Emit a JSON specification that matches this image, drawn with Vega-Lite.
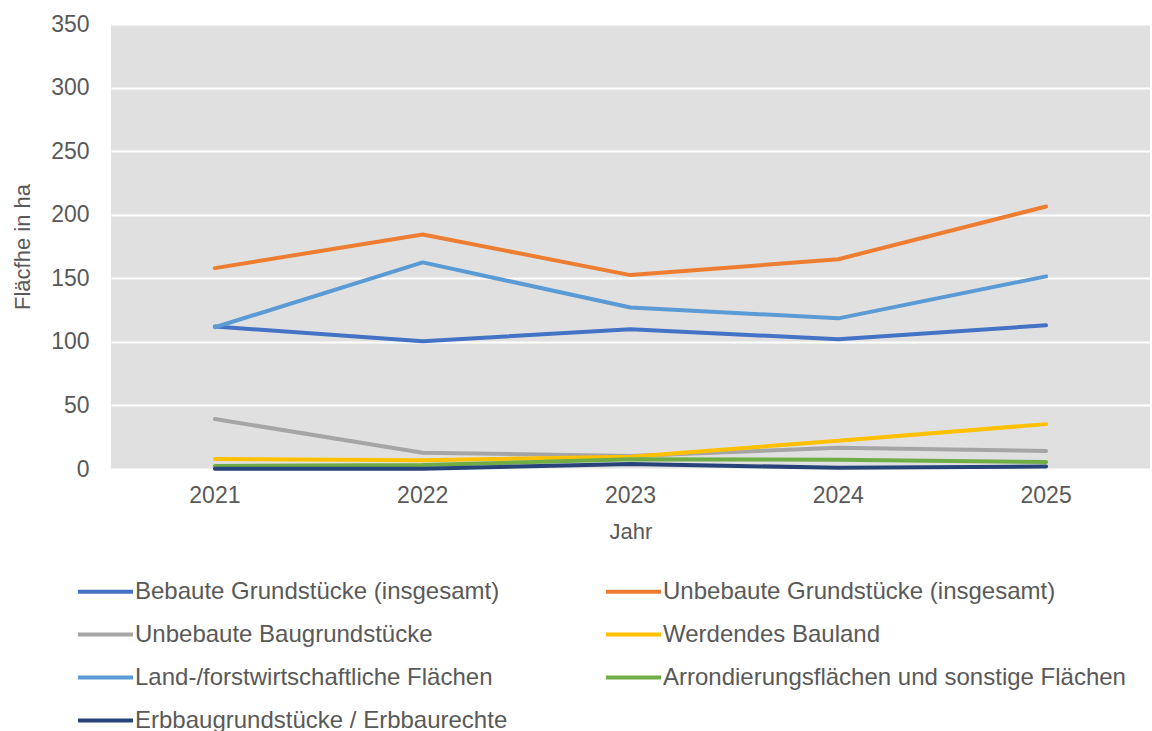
{
  "$schema": "https://vega.github.io/schema/vega-lite/v6.json",
  "autosize": "none",
  "width": 1039,
  "height": 445,
  "padding": {"left": 111, "top": 24, "right": 2, "bottom": 262},
  "background": "white",
  "config": {
    "font": "Liberation Sans",
    "view": {"fill": "#E0E0E0", "stroke": null},
    "axis": {"labelFont": "Liberation Sans", "titleFont": "Liberation Sans", "labelColor": "#595959", "titleColor": "#595959", "labelFontSize": 23, "titleFontSize": 22, "titleFontWeight": "normal"},
    "legend": {"labelFont": "Liberation Sans", "labelFontSize": 24, "labelColor": "#595959", "labelLimit": 800}
  },
  "data": {"values": [
    {"Jahr": "2021", "Serie": "Bebaute Grundstücke (insgesamt)", "Wert": 112},
    {"Jahr": "2022", "Serie": "Bebaute Grundstücke (insgesamt)", "Wert": 100.5},
    {"Jahr": "2023", "Serie": "Bebaute Grundstücke (insgesamt)", "Wert": 110},
    {"Jahr": "2024", "Serie": "Bebaute Grundstücke (insgesamt)", "Wert": 102},
    {"Jahr": "2025", "Serie": "Bebaute Grundstücke (insgesamt)", "Wert": 113},
    {"Jahr": "2021", "Serie": "Unbebaute Grundstücke (insgesamt)", "Wert": 158},
    {"Jahr": "2022", "Serie": "Unbebaute Grundstücke (insgesamt)", "Wert": 184.5},
    {"Jahr": "2023", "Serie": "Unbebaute Grundstücke (insgesamt)", "Wert": 152.5},
    {"Jahr": "2024", "Serie": "Unbebaute Grundstücke (insgesamt)", "Wert": 165},
    {"Jahr": "2025", "Serie": "Unbebaute Grundstücke (insgesamt)", "Wert": 206.5},
    {"Jahr": "2021", "Serie": "Unbebaute Baugrundstücke", "Wert": 39.3},
    {"Jahr": "2022", "Serie": "Unbebaute Baugrundstücke", "Wert": 12.8},
    {"Jahr": "2023", "Serie": "Unbebaute Baugrundstücke", "Wert": 10.2},
    {"Jahr": "2024", "Serie": "Unbebaute Baugrundstücke", "Wert": 16.8},
    {"Jahr": "2025", "Serie": "Unbebaute Baugrundstücke", "Wert": 14.1},
    {"Jahr": "2021", "Serie": "Werdendes Bauland", "Wert": 7.9},
    {"Jahr": "2022", "Serie": "Werdendes Bauland", "Wert": 6.8},
    {"Jahr": "2023", "Serie": "Werdendes Bauland", "Wert": 9.7},
    {"Jahr": "2024", "Serie": "Werdendes Bauland", "Wert": 22.2},
    {"Jahr": "2025", "Serie": "Werdendes Bauland", "Wert": 35.3},
    {"Jahr": "2021", "Serie": "Land-/forstwirtschaftliche Flächen", "Wert": 111.5},
    {"Jahr": "2022", "Serie": "Land-/forstwirtschaftliche Flächen", "Wert": 162.5},
    {"Jahr": "2023", "Serie": "Land-/forstwirtschaftliche Flächen", "Wert": 127},
    {"Jahr": "2024", "Serie": "Land-/forstwirtschaftliche Flächen", "Wert": 118.5},
    {"Jahr": "2025", "Serie": "Land-/forstwirtschaftliche Flächen", "Wert": 151.5},
    {"Jahr": "2021", "Serie": "Arrondierungsflächen und sonstige Flächen", "Wert": 2.4},
    {"Jahr": "2022", "Serie": "Arrondierungsflächen und sonstige Flächen", "Wert": 3.1},
    {"Jahr": "2023", "Serie": "Arrondierungsflächen und sonstige Flächen", "Wert": 7.6},
    {"Jahr": "2024", "Serie": "Arrondierungsflächen und sonstige Flächen", "Wert": 7.3},
    {"Jahr": "2025", "Serie": "Arrondierungsflächen und sonstige Flächen", "Wert": 5.5},
    {"Jahr": "2021", "Serie": "Erbbaugrundstücke / Erbbaurechte", "Wert": 0.2},
    {"Jahr": "2022", "Serie": "Erbbaugrundstücke / Erbbaurechte", "Wert": 0.2},
    {"Jahr": "2023", "Serie": "Erbbaugrundstücke / Erbbaurechte", "Wert": 3.9},
    {"Jahr": "2024", "Serie": "Erbbaugrundstücke / Erbbaurechte", "Wert": 1},
    {"Jahr": "2025", "Serie": "Erbbaugrundstücke / Erbbaurechte", "Wert": 2}
  ]},
  "mark": {"type": "line", "strokeWidth": 4, "strokeJoin": "round", "strokeCap": "round"},
  "encoding": {
    "x": {"field": "Jahr", "type": "ordinal", "scale": {"type": "band", "paddingInner": 0, "paddingOuter": 0},
      "axis": {"title": "Jahr", "labelAngle": 0, "ticks": false, "domain": false, "grid": false, "labelPadding": 15, "titlePadding": 14}},
    "y": {"field": "Wert", "type": "quantitative", "scale": {"domain": [0, 350], "nice": false},
      "axis": {"title": "Fläcfhe in ha", "values": [0, 50, 100, 150, 200, 250, 300, 350], "ticks": false, "domain": false, "gridColor": "white", "gridWidth": 2, "gridOpacity": 1, "labelPadding": 22, "titlePadding": 16}},
    "color": {"field": "Serie", "type": "nominal",
      "scale": {"domain": ["Bebaute Grundstücke (insgesamt)", "Unbebaute Grundstücke (insgesamt)", "Unbebaute Baugrundstücke", "Werdendes Bauland", "Land-/forstwirtschaftliche Flächen", "Arrondierungsflächen und sonstige Flächen", "Erbbaugrundstücke / Erbbaurechte"],
        "range": ["#4472C4", "#ED7D31", "#A5A5A5", "#FFC000", "#5B9BD5", "#70AD47", "#264478"]},
      "legend": {"title": null, "orient": "none", "direction": "horizontal", "legendX": -35, "legendY": 538, "columns": 2, "columnPadding": 90, "rowPadding": 1, "symbolType": "stroke", "symbolSize": 3025, "symbolStrokeWidth": 4, "labelOffset": 0}}
  }
}
